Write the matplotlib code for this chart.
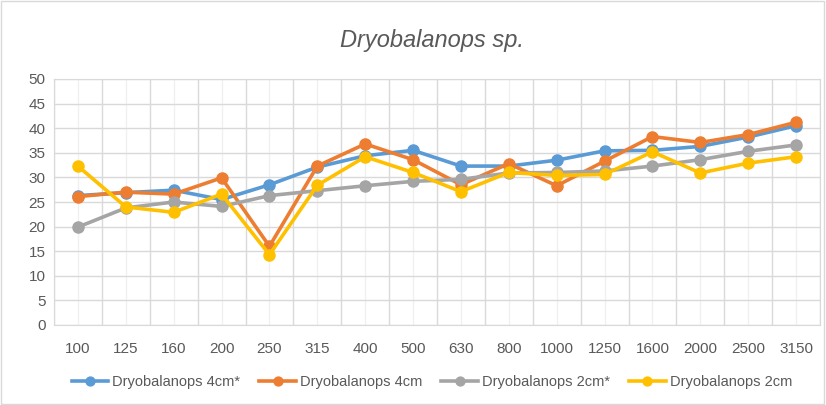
import matplotlib.pyplot as plt
import numpy as np

categories = ['100', '125', '160', '200', '250', '315', '400', '500',
              '630', '800', '1000', '1250', '1600', '2000', '2500', '3150']
dryo_4cm_star = [26.3, 26.9, 27.4, 25.5, 28.5, 32.1, 34.4, 35.5,
                 32.3, 32.3, 33.5, 35.4, 35.5, 36.3, 38.2, 40.5]
dryo_4cm = [26.1, 27.0, 26.6, 29.9, 16.0, 32.3, 36.8, 33.6,
            28.5, 32.8, 28.3, 33.3, 38.3, 37.1, 38.7, 41.2]
dryo_2cm_star = [19.9, 23.8, 25.0, 24.1, 26.3, 27.3, 28.3, 29.2,
                 29.6, 30.9, 31.0, 31.3, 32.3, 33.6, 35.3, 36.6]
dryo_2cm = [32.3, 24.0, 22.9, 26.6, 14.3, 28.4, 34.2, 31.0,
            27.1, 31.0, 30.4, 30.6, 35.2, 30.9, 32.9, 34.2]

labels = ['Dryobalanops 4cm*', 'Dryobalanops 4cm', 'Dryobalanops 2cm*', 'Dryobalanops 2cm']
colors = ['#5b9bd5', '#ed7d31', '#a5a5a5', '#ffc000']
series = [dryo_4cm_star, dryo_4cm, dryo_2cm_star, dryo_2cm]

plt.rcParams['font.family'] = ['Liberation Sans', 'DejaVu Sans']

fig = plt.figure(figsize=(8.26, 4.05), dpi=100)
ax = fig.add_axes([54 / 826, 1 - 325 / 405, (820 - 54) / 826, (325 - 79) / 405])

x = np.arange(len(categories))
for vals, col, lab in zip(series, colors, labels):
    ax.plot(x, vals, color=col, linewidth=2.6, marker='o', markersize=8, label=lab)

ax.set_xlim(-0.5, len(categories) - 0.5)
ax.set_ylim(0, 50)
ax.set_yticks(np.arange(0, 51, 5))
ax.set_xticks(x)
ax.set_xticklabels(categories)
ax.set_xticks(np.arange(-0.5, len(categories), 1), minor=True)

ax.grid(axis='y', which='major', color='#d9d9d9', linewidth=1)
ax.grid(axis='x', which='minor', color='#d9d9d9', linewidth=1)
ax.grid(axis='x', which='major', color='#f0f0f0', linewidth=1)
ax.set_axisbelow(True)
for s in ax.spines.values():
    s.set_color('#d9d9d9')
ax.tick_params(which='both', length=0, colors='#595959', labelsize=11)
ax.tick_params(axis='x', pad=12)
ax.tick_params(axis='y', pad=6)

fig.text(0.523, 1 - 40 / 405, 'Dryobalanops sp.', ha='center', va='center',
         fontsize=17, style='italic', color='#595959')

fig.legend(loc='center', bbox_to_anchor=(0.523, 1 - 382 / 405), ncol=4, frameon=False,
           fontsize=10.5, labelcolor='#595959', handlelength=2.5, columnspacing=1.3,
           handletextpad=0.3, markerscale=0.8)

fig.patches.append(plt.Rectangle((0.001, 0.002), 0.997, 0.996, transform=fig.transFigure,
                                 fill=False, edgecolor='#d9d9d9', linewidth=1))

fig.savefig('out.png', dpi=100)
